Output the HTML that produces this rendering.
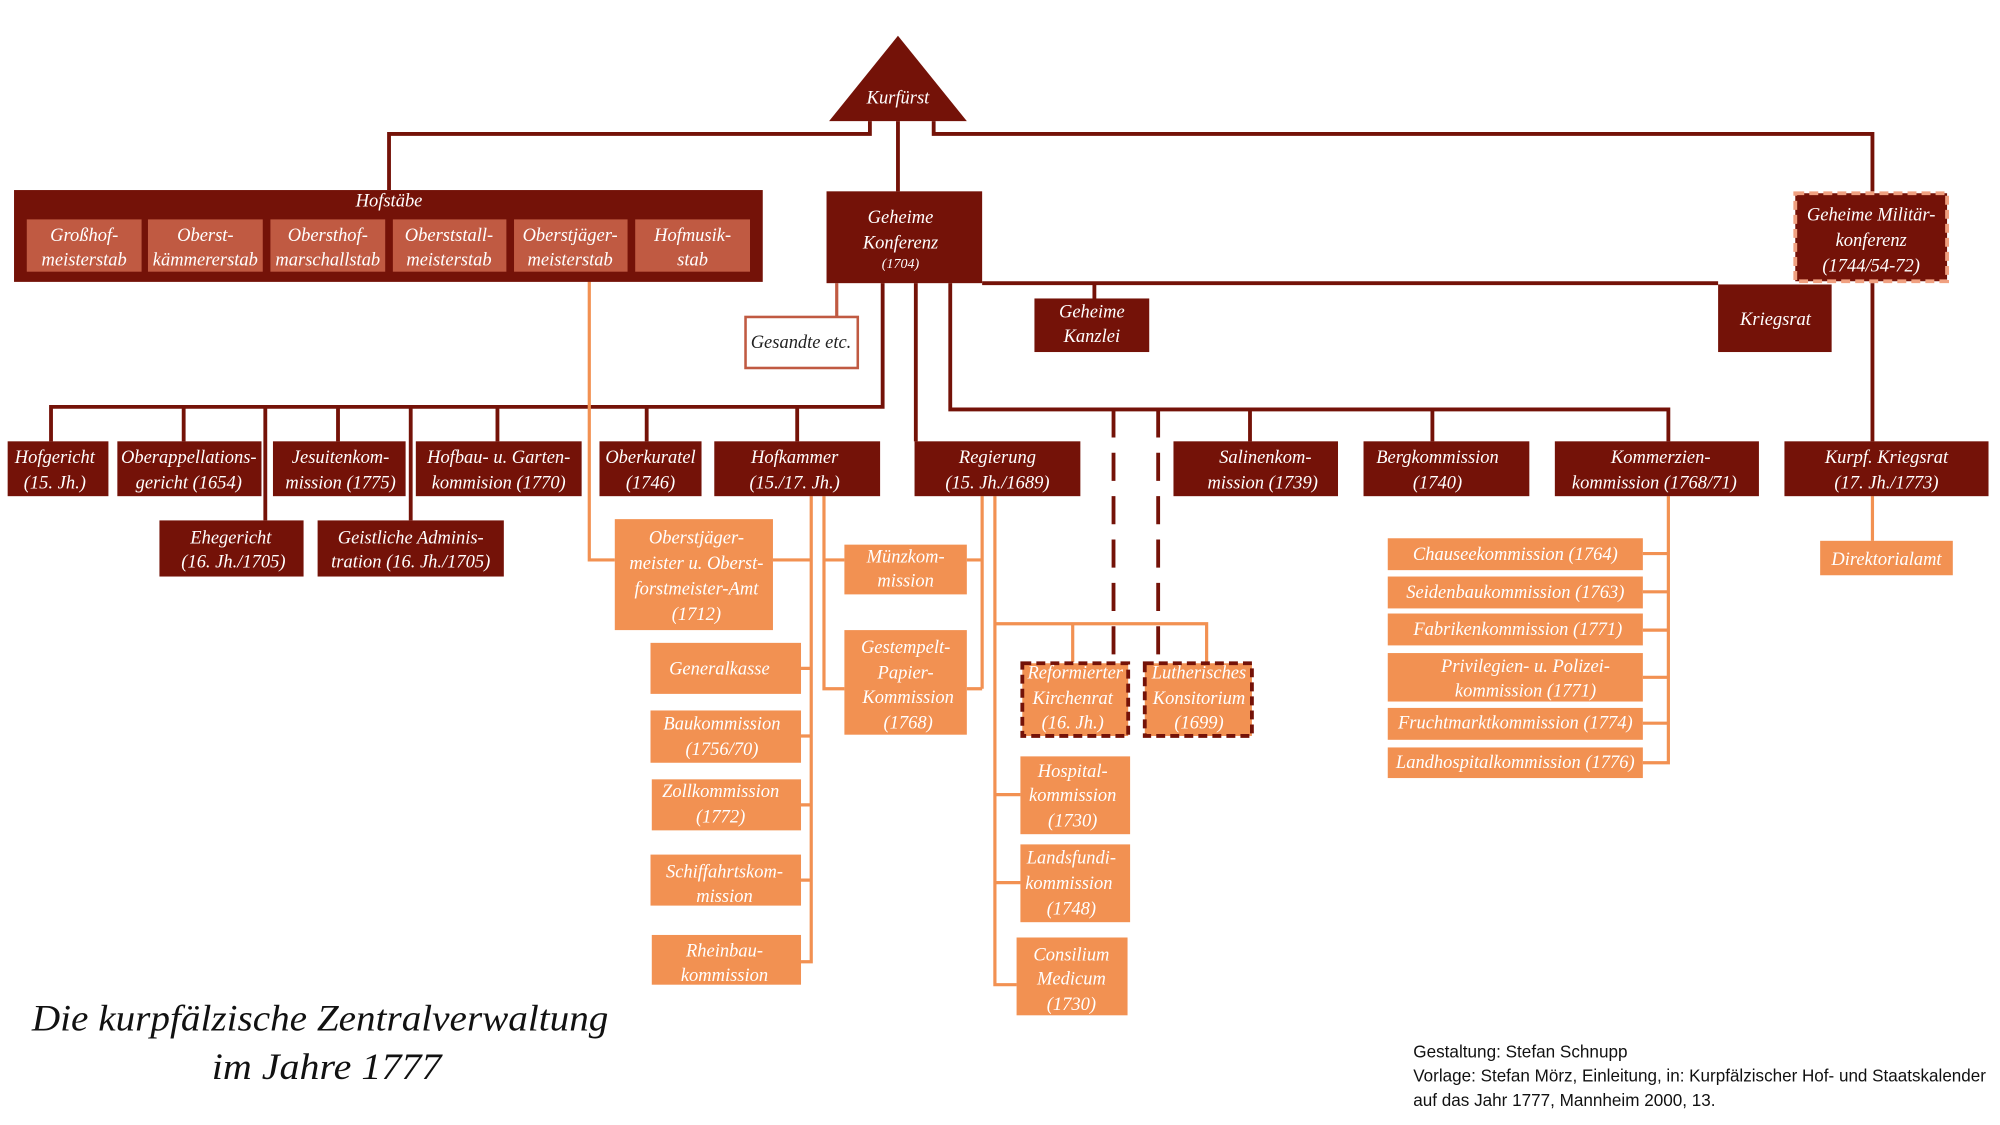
<!DOCTYPE html>
<html><head><meta charset="utf-8"><style>
html,body{margin:0;padding:0;background:#fff;width:2000px;height:1125px;overflow:hidden}
svg{display:block}
text{font-family:"Liberation Serif",serif;font-style:italic;font-size:14.5px;fill:#fff;text-anchor:middle}
.d{fill:#741208}.o{fill:#f29152}.s{fill:#c05a42}
.ld{stroke:#741208;stroke-width:3;fill:none}
.lo{stroke:#f29152;stroke-width:2.5;fill:none}
.cr{fill:#111;text-anchor:start;font-style:normal;font-family:"Liberation Sans",sans-serif;font-size:13.5px}
</style></head><body>
<svg width="2000" height="1125" viewBox="0 0 1568 882" preserveAspectRatio="none">
<path class="ld" d="M682 95V105H305V149 M732 95V105H1468V150 M704 95V150 M770 222H1347 M858 222V234 M1468 222V346 M692 222V319H40V346 M144 319V346 M208 319V408 M265 319V346 M322 319V408 M390 319V346 M507 319V346 M625 319V346 M718 222V346 M745 222V321H1308V346 M980 321V346 M1123 321V346"/>
<path d="M873 321V519 M908 321V519" stroke="#741208" stroke-width="3" stroke-dasharray="22,12" fill="none"/>
<path d="M656 222V248" stroke="#c05a42" stroke-width="2.5" fill="none"/>
<path class="lo" d="M462 213V439H482 M606 439H636 M636 389V754H628 M628 524H636 M628 577H636 M628 631H636 M628 690H636 M646 389V540H662 M646 439H662 M758 439H770 M758 540H770 M770 389V540 M780 389V772H797 M780 489H946V519 M841 489V519 M780 623H800 M780 692H800 M1308 389V598H1288 M1288 434H1308 M1288 464H1308 M1288 494H1308 M1288 531H1308 M1288 567H1308 M1468 389V424"/>
<polygon class="d" points="704,28 650,95 758,95"/>
<text x="704" y="81">Kurfürst</text>
<rect class="d" x="11" y="149" width="587" height="72"/>
<text x="305" y="162">Hofstäbe</text>
<rect class="s" x="21" y="172" width="90" height="41"/><text x="66" y="189">Großhof-</text><text x="66" y="208">meisterstab</text>
<rect class="s" x="116" y="172" width="90" height="41"/><text x="161" y="189">Oberst-</text><text x="161" y="208">kämmererstab</text>
<rect class="s" x="212" y="172" width="90" height="41"/><text x="257" y="189">Obersthof-</text><text x="257" y="208">marschallstab</text>
<rect class="s" x="308" y="172" width="89" height="41"/><text x="352" y="189">Oberststall-</text><text x="352" y="208">meisterstab</text>
<rect class="s" x="403" y="172" width="89" height="41"/><text x="447" y="189">Oberstjäger-</text><text x="447" y="208">meisterstab</text>
<rect class="s" x="498" y="172" width="90" height="41"/><text x="543" y="189">Hofmusik-</text><text x="543" y="208">stab</text>
<rect class="d" x="648" y="150" width="122" height="72"/>
<text x="706" y="175">Geheime</text><text x="706" y="195">Konferenz</text><text x="706" y="210" style="font-size:11px">(1704)</text>
<rect x="584.5" y="248.5" width="88" height="40" fill="#fff" stroke="#c05a42" stroke-width="2"/>
<text x="628" y="273" style="fill:#222">Gesandte etc.</text>
<rect class="d" x="811" y="234" width="90" height="42"/><text x="856" y="249">Geheime</text><text x="856" y="268">Kanzlei</text>
<rect class="d" x="1347" y="223" width="89" height="53"/><text x="1392" y="255">Kriegsrat</text>
<rect class="d" x="1407.5" y="151.5" width="119" height="69" stroke="#f0a080" stroke-width="3" stroke-dasharray="7,4"/>
<text x="1467" y="173">Geheime Militär-</text><text x="1467" y="193">konferenz</text><text x="1467" y="213">(1744/54-72)</text>
<rect class="d" x="6" y="346" width="79" height="43"/><text x="43" y="363">Hofgericht</text><text x="43" y="383">(15. Jh.)</text>
<rect class="d" x="92" y="346" width="113" height="43"/><text x="148" y="363">Oberappellations-</text><text x="148" y="383">gericht (1654)</text>
<rect class="d" x="214" y="346" width="104" height="43"/><text x="267" y="363">Jesuitenkom-</text><text x="267" y="383">mission (1775)</text>
<rect class="d" x="326" y="346" width="130" height="43"/><text x="391" y="363">Hofbau- u. Garten-</text><text x="391" y="383">kommision (1770)</text>
<rect class="d" x="470" y="346" width="80" height="43"/><text x="510" y="363">Oberkuratel</text><text x="510" y="383">(1746)</text>
<rect class="d" x="560" y="346" width="130" height="43"/><text x="623" y="363">Hofkammer</text><text x="623" y="383">(15./17. Jh.)</text>
<rect class="d" x="717" y="346" width="130" height="43"/><text x="782" y="363">Regierung</text><text x="782" y="383">(15. Jh./1689)</text>
<rect class="d" x="920" y="346" width="129" height="43"/><text x="992" y="363">Salinenkom-</text><text x="990" y="383">mission (1739)</text>
<rect class="d" x="1069" y="346" width="130" height="43"/><text x="1127" y="363">Bergkommission</text><text x="1127" y="383">(1740)</text>
<rect class="d" x="1219" y="346" width="160" height="43"/><text x="1302" y="363">Kommerzien-</text><text x="1297" y="383">kommission (1768/71)</text>
<rect class="d" x="1399" y="346" width="160" height="43"/><text x="1479" y="363">Kurpf. Kriegsrat</text><text x="1479" y="383">(17. Jh./1773)</text>
<rect class="d" x="125" y="408" width="113" height="44"/><text x="181" y="426">Ehegericht</text><text x="183" y="445">(16. Jh./1705)</text>
<rect class="d" x="249" y="408" width="146" height="44"/><text x="322" y="426">Geistliche Adminis-</text><text x="322" y="445">tration (16. Jh./1705)</text>
<rect class="o" x="482" y="407" width="124" height="87"/><text x="546" y="426">Oberstjäger-</text><text x="546" y="446">meister u. Oberst-</text><text x="546" y="466">forstmeister-Amt</text><text x="546" y="486">(1712)</text>
<rect class="o" x="662" y="427" width="96" height="39"/><text x="710" y="441">Münzkom-</text><text x="710" y="460">mission</text>
<rect class="o" x="662" y="494" width="96" height="82"/><text x="710" y="512">Gestempelt-</text><text x="710" y="532">Papier-</text><text x="712" y="551">Kommission</text><text x="712" y="571">(1768)</text>
<rect class="o" x="510" y="504" width="118" height="40"/><text x="564" y="529">Generalkasse</text>
<rect class="o" x="510" y="557" width="118" height="41"/><text x="566" y="572">Baukommission</text><text x="566" y="592">(1756/70)</text>
<rect class="o" x="511" y="611" width="117" height="40"/><text x="565" y="625">Zollkommission</text><text x="565" y="645">(1772)</text>
<rect class="o" x="510" y="670" width="118" height="40"/><text x="568" y="688">Schiffahrtskom-</text><text x="568" y="707">mission</text>
<rect class="o" x="511" y="733" width="117" height="39"/><text x="568" y="750">Rheinbau-</text><text x="568" y="769">kommission</text>
<rect class="o" x="801.5" y="520" width="83" height="57" stroke="#741208" stroke-width="3" stroke-dasharray="7,4"/><text x="843" y="532">Reformierter</text><text x="841" y="552">Kirchenrat</text><text x="841" y="571">(16. Jh.)</text>
<rect class="o" x="897.5" y="520" width="84" height="57" stroke="#741208" stroke-width="3" stroke-dasharray="7,4"/><text x="940" y="532">Lutherisches</text><text x="940" y="552">Konsitorium</text><text x="940" y="571">(1699)</text>
<rect class="o" x="800" y="593" width="86" height="61"/><text x="841" y="609">Hospital-</text><text x="841" y="628">kommission</text><text x="841" y="648">(1730)</text>
<rect class="o" x="800" y="662" width="86" height="61"/><text x="840" y="677">Landsfundi-</text><text x="838" y="697">kommission</text><text x="840" y="717">(1748)</text>
<rect class="o" x="797" y="735" width="87" height="61"/><text x="840" y="753">Consilium</text><text x="840" y="772">Medicum</text><text x="840" y="792">(1730)</text>
<rect class="o" x="1088" y="422" width="200" height="25"/><text x="1188" y="439">Chauseekommission (1764)</text>
<rect class="o" x="1088" y="452" width="200" height="25"/><text x="1188" y="469">Seidenbaukommission (1763)</text>
<rect class="o" x="1088" y="481" width="200" height="25"/><text x="1190" y="498">Fabrikenkommission (1771)</text>
<rect class="o" x="1088" y="512" width="200" height="38"/><text x="1196" y="527">Privilegien- u. Polizei-</text><text x="1196" y="546">kommission (1771)</text>
<rect class="o" x="1088" y="555" width="200" height="25"/><text x="1188" y="571">Fruchtmarktkommission (1774)</text>
<rect class="o" x="1088" y="586" width="200" height="24"/><text x="1188" y="602">Landhospitalkommission (1776)</text>
<rect class="o" x="1427" y="424" width="104" height="27"/><text x="1479" y="443">Direktorialamt</text>
<text x="251" y="808" style="fill:#111;font-size:29px" textLength="452" lengthAdjust="spacingAndGlyphs">Die kurpfälzische Zentralverwaltung</text>
<text x="256" y="846" style="fill:#111;font-size:29px" textLength="180" lengthAdjust="spacingAndGlyphs">im Jahre 1777</text>
<text x="1108" y="829" class="cr" textLength="168" lengthAdjust="spacingAndGlyphs">Gestaltung: Stefan Schnupp</text>
<text x="1108" y="848" class="cr" textLength="449" lengthAdjust="spacingAndGlyphs">Vorlage: Stefan Mörz, Einleitung, in: Kurpfälzischer Hof- und Staatskalender</text>
<text x="1108" y="867" class="cr" textLength="237" lengthAdjust="spacingAndGlyphs">auf das Jahr 1777, Mannheim 2000, 13.</text>
</svg>
</body></html>
